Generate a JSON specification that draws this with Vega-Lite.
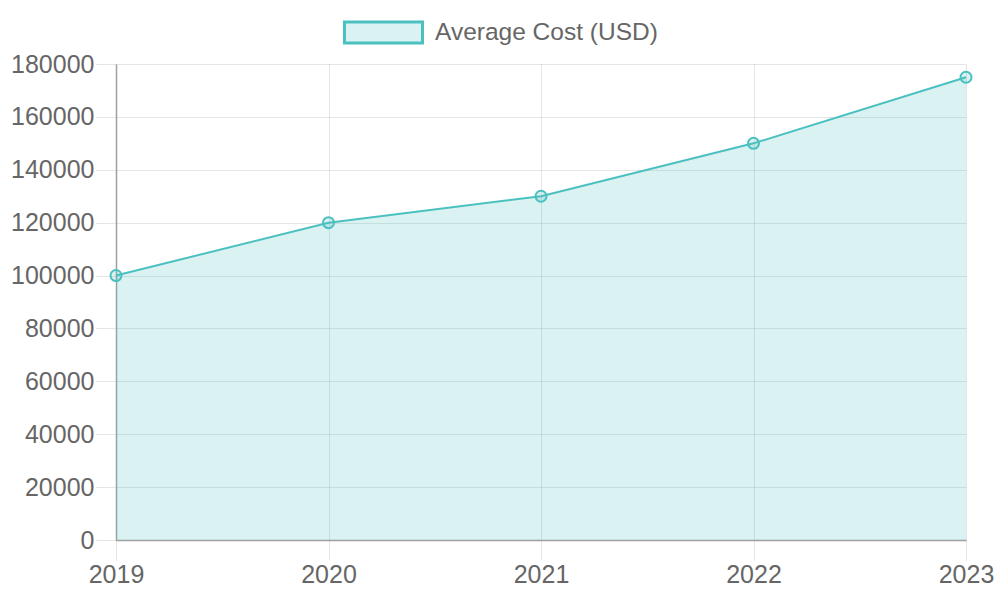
{
  "$schema": "https://vega.github.io/schema/vega-lite/v6.json",
  "autosize": "none",
  "width": 850,
  "height": 476,
  "padding": {"left": 116, "top": 64, "right": 34, "bottom": 60},
  "background": "white",
  "config": {
    "view": {"stroke": null},
    "font": "Liberation Sans",
    "axis": {
      "gridColor": "#000000",
      "gridOpacity": 0.1,
      "tickColor": "#000000",
      "tickOpacity": 0.1,
      "domainColor": "#a0a0a0",
      "domainWidth": 1.5,
      "labelColor": "#666666",
      "labelFontSize": 25,
      "labelFont": "Liberation Sans",
      "title": null
    }
  },
  "data": {
    "values": [
      {"year": 2019, "cost": 100000, "series": "Average Cost (USD)"},
      {"year": 2020, "cost": 120000, "series": "Average Cost (USD)"},
      {"year": 2021, "cost": 130000, "series": "Average Cost (USD)"},
      {"year": 2022, "cost": 150000, "series": "Average Cost (USD)"},
      {"year": 2023, "cost": 175000, "series": "Average Cost (USD)"}
    ]
  },
  "encoding": {
    "x": {
      "field": "year",
      "type": "quantitative",
      "scale": {"domain": [2019, 2023], "nice": false, "zero": false},
      "axis": {
        "values": [2019, 2020, 2021, 2022, 2023],
        "format": "d",
        "tickSize": 20,
        "labelPadding": 2,
        "labelFlush": false,
        "labelOverlap": false
      }
    },
    "y": {
      "field": "cost",
      "type": "quantitative",
      "scale": {"domain": [0, 180000], "nice": false},
      "axis": {
        "values": [0, 20000, 40000, 60000, 80000, 100000, 120000, 140000, 160000, 180000],
        "format": "d",
        "tickSize": 20,
        "labelPadding": 2,
        "labelOverlap": false
      }
    }
  },
  "layer": [
    {
      "mark": {"type": "area", "color": "#4bc0c0", "fillOpacity": 0.2}
    },
    {
      "mark": {"type": "line", "color": "#4bc0c0", "strokeWidth": 2}
    },
    {
      "mark": {
        "type": "point",
        "shape": "circle",
        "size": 121,
        "filled": true,
        "fill": "#4bc0c0",
        "fillOpacity": 0.2,
        "stroke": "#4bc0c0",
        "strokeWidth": 2,
        "opacity": 1
      }
    },
    {
      "mark": {
        "type": "point",
        "filled": true,
        "size": 0,
        "stroke": "#4bc0c0",
        "strokeWidth": 3
      },
      "encoding": {
        "color": {
          "field": "series",
          "type": "nominal",
          "scale": {"range": ["#dbf2f2"]},
          "legend": {
            "title": null,
            "orient": "none",
            "legendX": 246,
            "legendY": -53,
            "padding": 0,
            "symbolType": "M-1.95,-0.525H1.95V0.525H-1.95Z",
            "symbolSize": 1600,
            "symbolStrokeColor": "#4bc0c0",
            "symbolStrokeWidth": 3,
            "symbolOpacity": 1,
            "labelOffset": 30,
            "labelFontSize": 24.5,
            "labelColor": "#666666",
            "labelFont": "Liberation Sans",
            "labelLimit": 400,
            "encode": {
              "symbols": {
                "update": {
                  "stroke": {"value": "#4bc0c0"},
                  "strokeWidth": {"value": 3}
                }
              }
            }
          }
        }
      }
    }
  ]
}
